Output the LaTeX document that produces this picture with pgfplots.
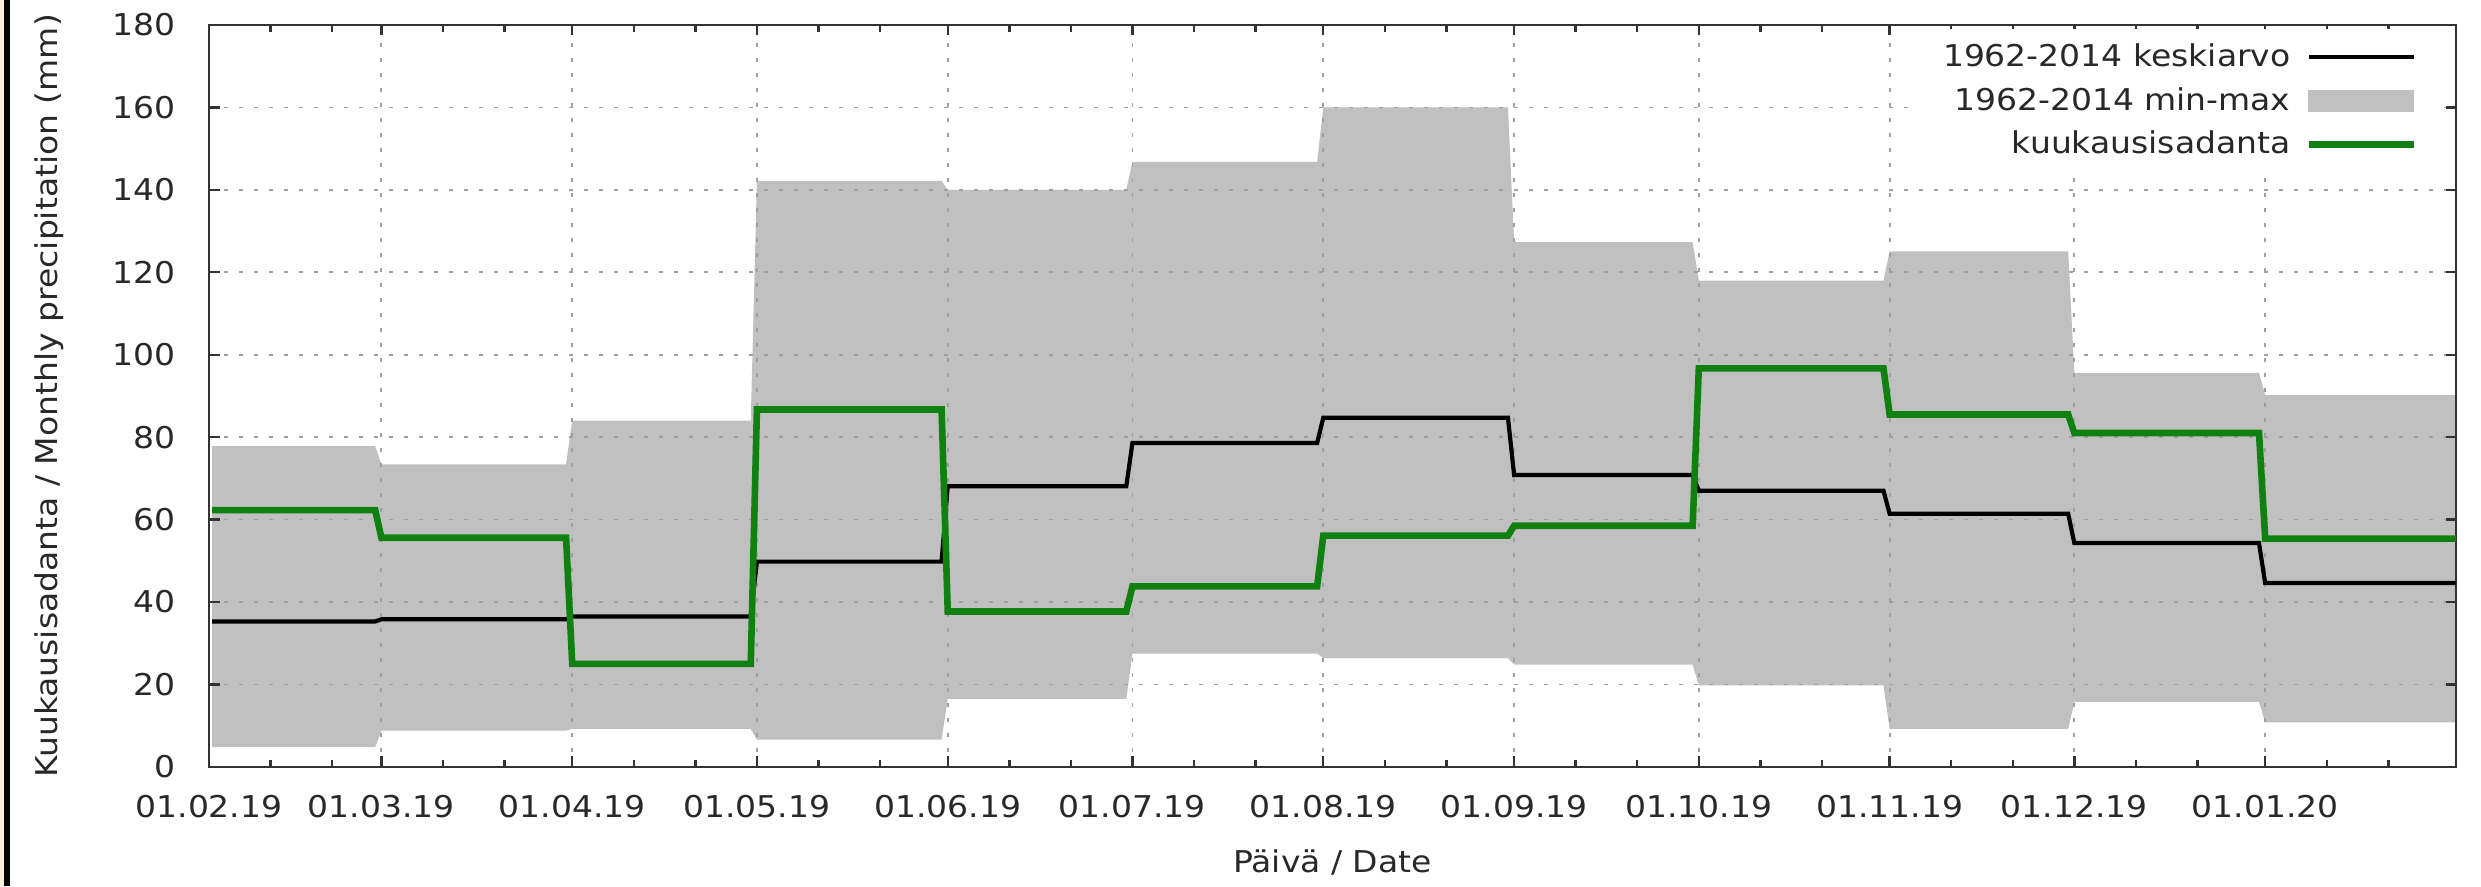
\documentclass[border=0pt]{standalone}
\usepackage{fontspec}
\setmainfont{DejaVu Sans}[FakeStretch=1.1]
\usepackage{pgfplots}
\pgfplotsset{compat=1.18}
\usepackage{pgfplotstable}
\usepgfplotslibrary{fillbetween}
\usetikzlibrary{calc}

\definecolor{bandgray}{RGB}{192,192,192}
\definecolor{obsgreen}{RGB}{16,128,16}
\definecolor{txt}{RGB}{40,40,40}
\definecolor{edgebeige}{RGB}{250,236,216}

% day 0 = 01.02.19; monthly values held flat over each month
\pgfplotstableread{
x     lo    hi     mean  obs
0.5   4.8   77.8   35.3  62.3
27    4.8   77.8   35.3  62.3
28    8.8   73.4   35.8  55.6
58    8.8   73.4   35.8  55.6
59    9.2   84.0   36.5  25.0
88    9.2   84.0   36.5  25.0
89    6.6   142.2  49.8  86.7
119   6.6   142.2  49.8  86.7
120   16.5  140.0  68.1  37.7
149   16.5  140.0  68.1  37.7
150   27.5  146.8  78.6  43.8
180   27.5  146.8  78.6  43.8
181   26.4  160.0  84.7  56.1
211   26.4  160.0  84.7  56.1
212   24.8  127.3  70.8  58.5
241   24.8  127.3  70.8  58.5
242   19.8  118.0  67.0  96.7
272   19.8  118.0  67.0  96.7
273   9.2   125.1  61.4  85.5
302   9.2   125.1  61.4  85.5
303   15.8  95.6   54.3  81.0
333   15.8  95.6   54.3  81.0
334   10.8  90.2   44.6  55.4
365   10.8  90.2   44.6  55.4
}\sade

\begin{document}
\begin{tikzpicture}
\begin{axis}[
    set layers,
    scale only axis,
    width=749pt, height=247.3pt,
    xmin=0, xmax=365, ymin=0, ymax=180,
    xtick={0,28,59,89,120,150,181,212,242,273,303,334},
    xticklabels={01.02.19,01.03.19,01.04.19,01.05.19,01.06.19,01.07.19,01.08.19,01.09.19,01.10.19,01.11.19,01.12.19,01.01.20},
    minor xtick={10,20,38,48,69,79,99,109,130,140,160,170,191,201,222,232,252,262,283,293,313,323,344,354},
    ytick={0,20,...,180},
    grid=major,
    major grid style={gray!75, line width=0.6pt, dash pattern=on 1.2pt off 3.8pt},
    axis line style={black!80, line width=0.9pt},
    tick style={black!80, line width=0.8pt},
    major tick length=3.5pt, minor tick length=2.3pt,
    /pgf/number format/assume math mode=true,
    ticklabel style={font=\fontsize{10}{12}\selectfont, text=txt},
    xticklabel style={yshift=-6pt},
    yticklabel style={xshift=-7.5pt},
    xlabel={Päivä / Date},
    ylabel={Kuukausisadanta / Monthly precipitation (mm)},
    every axis x label/.style={at={(axis description cs:0.5,-0.1294)}, anchor=center, font=\fontsize{10}{12}\selectfont, text=txt},
    every axis y label/.style={at={(axis description cs:-0.0712,0.5)}, rotate=90, anchor=center, font=\fontsize{10}{12}\selectfont, text=txt},
    legend cell align=right,
    legend plot pos=right,
    legend style={at={(0.991,0.996)}, anchor=north east, draw=none, fill=white,
        inner xsep=6pt, inner ysep=3pt, row sep=1.5pt, column sep=3pt,
        font=\fontsize{10}{12}\selectfont, text=txt},
]
\addplot[name path=hi, draw=none, forget plot] table[x=x, y=hi] {\sade};
\addplot[name path=lo, draw=none, forget plot] table[x=x, y=lo] {\sade};
\addplot[bandgray, forget plot] fill between[of=hi and lo, on layer=axis background];

\addplot[black, line width=1.4pt, forget plot] table[x=x, y=mean] {\sade};
\addplot[obsgreen, line width=2.2pt, forget plot] table[x=x, y=obs] {\sade};

\addlegendimage{legend image code/.code={\draw[black, line width=1.4pt] (0pt,0pt) -- (35pt,0pt);}}
\addlegendentry{1962-2014 keskiarvo}
\addlegendimage{legend image code/.code={\fill[bandgray] (0pt,-3.6pt) rectangle (35pt,3.6pt);}}
\addlegendentry{1962-2014 min-max}
\addlegendimage{legend image code/.code={\draw[obsgreen, line width=2.2pt] (0pt,0pt) -- (35pt,0pt);}}
\addlegendentry{kuukausisadanta}

\coordinate (sw) at (rel axis cs:0,0);
\coordinate (ne) at (rel axis cs:1,1);
\end{axis}
\pgfresetboundingbox
\path[use as bounding box] ($(sw)+(-69.67pt,-39.8pt)$) rectangle ($(ne)+(8.33pt,8.33pt)$);
% frame edge at the left of the image
\fill[edgebeige] ($(sw)+(-69.67pt,-39.8pt)$) rectangle ($(sw|-ne)+(-68.2pt,8.33pt)$);
\fill[black] ($(sw)+(-68.2pt,-39.8pt)$) rectangle ($(sw|-ne)+(-66.2pt,8.33pt)$);
\end{tikzpicture}
\end{document}
